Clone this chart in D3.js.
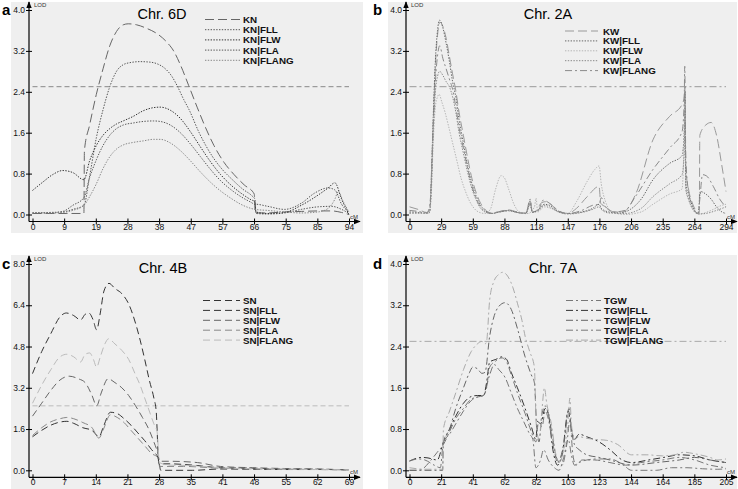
<!DOCTYPE html>
<html><head><meta charset="utf-8">
<script src="https://cdn.jsdelivr.net/npm/d3@7"></script>
<style>body{margin:0;background:#fff}svg{display:block}text{font-family:"Liberation Sans",Arial,sans-serif}</style>
</head><body>
<script>
// ---------- DATA ----------
const panelLetters = ["a","b","c","d"];
const titles = ["Chr. 6D","Chr. 2A","Chr. 4B","Chr. 7A"];
const xMax = [94.2, 293.8, 69.1, 205.3];
const yMax = [4.0, 4.0, 8.0, 4.0];
const xTickLabels6D = ["0","9","19","28","38","47","57","66","75","85","94"];
const xTickLabels2A = ["0","29","59","88","118","147","176","206","235","264","294"];
const xTickLabels4B = ["0","7","14","21","28","35","41","48","55","62","69"];
const xTickLabels7A = ["0","21","41","62","82","103","123","144","164","185","205"];
const yTickLabels4 = ["0.0","0.8","1.6","2.4","3.2","4.0"];
const yTickLabels8 = ["0.0","1.6","3.2","4.8","6.4","8.0"];
const threshold = [2.5, 2.5, 2.5, 2.5];

const names6D = ["KN","KN|FLL","KN|FLW","KN|FLA","KN|FLANG"];
const KN = [[0,0.02],[5,0.02],[10,0.02],[15.3,0.02],[15.45,1.25],[17,1.75],[19,2.35],[21,2.85],[23,3.3],[25,3.58],[27,3.71],[28.5,3.73],[31,3.71],[34,3.64],[37,3.54],[40,3.37],[42,3.2],[44,2.93],[46.5,2.52],[49,2.1],[51.5,1.7],[54,1.35],[57,1.02],[60,0.78],[63,0.58],[66,0.4],[66.3,0.03],[70,0.03],[75,0.05],[80,0.06],[85,0.07],[89,0.07],[92,0.04],[94.2,0.0]];
const KN_FLL = [[0,0.03],[5,0.04],[9,0.05],[12,0.1],[15.3,0.18],[17,0.75],[19,1.5],[21,2.05],[23,2.5],[25,2.8],[27,2.93],[29,2.97],[32,2.99],[35,2.98],[37,2.95],[39.7,2.84],[41.5,2.7],[43.2,2.5],[45,2.25],[46.6,2.05],[49.6,1.6],[53.5,1.14],[56.5,0.88],[59.5,0.68],[62.5,0.5],[65.4,0.36],[66.2,0.3],[66.5,0.02],[70,0.01],[75,0.03],[80,0.1],[85,0.15],[89,0.16],[92,0.1],[94.2,0.02]];
const KN_FLW = [[0,0.47],[3,0.63],[6,0.78],[9,0.86],[12,0.82],[15.3,0.68],[17,1.05],[19,1.35],[21,1.55],[23,1.68],[25,1.77],[27,1.83],[30,1.92],[33,2.03],[36,2.09],[38,2.1],[41,2.04],[44,1.88],[47,1.62],[50,1.32],[53,1.03],[56,0.78],[59,0.58],[62,0.42],[65,0.29],[66.2,0.25],[66.5,0.05],[70,0.02],[75,0.04],[80,0.18],[85,0.38],[88,0.52],[90,0.62],[92,0.3],[94.2,0.0]];
const KN_FLA = [[0,0.03],[5,0.03],[9,0.06],[12,0.18],[15.3,0.33],[17,0.72],[19,1.07],[21,1.35],[23,1.55],[25,1.68],[27,1.75],[30,1.79],[33,1.82],[36,1.83],[38,1.82],[41,1.75],[44,1.6],[47,1.38],[50,1.13],[53,0.88],[56,0.66],[59,0.49],[62,0.35],[65,0.24],[66.2,0.2],[66.5,0.2],[70,0.16],[75,0.1],[80,0.22],[84,0.42],[88,0.52],[90,0.48],[92,0.2],[94.2,0.05]];
const KN_FLANG = [[0,0.03],[5,0.03],[9,0.04],[12,0.08],[15.3,0.18],[17,0.35],[19,0.6],[21,0.9],[23,1.13],[25,1.28],[27,1.36],[30,1.41],[33,1.44],[36,1.47],[38,1.47],[41,1.4],[44,1.25],[47,1.05],[50,0.83],[53,0.63],[56,0.46],[59,0.32],[62,0.2],[65,0.12],[66.2,0.1],[70,0.08],[75,0.05],[80,0.03],[85,0.05],[88,0.12],[90,0.3],[91,0.45],[92.5,0.25],[94.2,0.05]];

const names2A = ["KW","KW|FLL","KW|FLW","KW|FLA","KW|FLANG"];
const KW = [[0,0.15],[8,0.1],[16,0.04],[19,0.1],[20,0.6],[22,1.8],[24,2.9],[26,3.5],[28.3,3.76],[31,3.68],[34,3.45],[37,3.1],[40,2.75],[43,2.42],[46,2.0],[50,1.55],[54,1.1],[58,0.7],[62,0.42],[66,0.22],[70,0.1],[76,0.03],[84,0.06],[92,0.09],[100,0.05],[108,0.03],[112,0.27],[114,0.05],[118,0.08],[122,0.22],[126,0.25],[131,0.2],[138,0.08],[147,0.02],[155,0.12],[165,0.35],[176,0.55],[177.5,0.22],[182,0.15],[190,0.05],[198,0.05],[210,0.4],[226,1.46],[241.5,1.92],[253,2.15],[255,2.3],[255.6,2.5],[256.5,0.9],[259,0.5],[263,0.2],[268,0.03],[269,0.02],[269.5,1.55],[275,1.75],[280,1.8],[285,1.55],[290,0.95],[293.8,0.45]];
const KW_FLL = [[0,0.05],[8,0.04],[16,0.02],[19,0.05],[20,0.5],[22,1.9],[24,3.0],[26,3.6],[28,3.8],[31,3.65],[34,3.35],[37,3.0],[40,2.6],[43,2.3],[46,1.85],[50,1.4],[54,0.95],[58,0.6],[62,0.35],[66,0.18],[70,0.08],[76,0.02],[84,0.05],[92,0.08],[100,0.04],[108,0.02],[112,0.22],[114,0.04],[120,0.1],[125,0.2],[130,0.18],[138,0.06],[147,0.02],[160,0.05],[170,0.12],[176,0.2],[178,0.12],[185,0.05],[195,0.03],[205,0.1],[215,0.3],[226,0.68],[241.5,1.0],[253,1.15],[255,1.6],[255.7,2.4],[256.5,0.6],[259,0.4],[263,0.15],[268,0.02],[270,0.45],[275,0.4],[280,0.3],[285,0.15],[290,0.05],[293.8,0.02]];
const KW_FLW = [[0,0.02],[10,0.02],[18,0.02],[20,0.3],[22,1.4],[24,2.1],[26,2.3],[27.5,2.35],[30,2.2],[33,2.0],[36,1.75],[40,1.4],[44,1.05],[48,0.7],[52,0.45],[56,0.25],[60,0.12],[64,0.05],[70,0.02],[75,0.1],[80,0.5],[85,0.76],[88,0.72],[92,0.5],[97,0.2],[102,0.05],[110,0.02],[116,0.15],[117.5,0.32],[119,0.05],[125,0.15],[131,0.12],[140,0.04],[147,0.02],[155,0.25],[165,0.65],[172,0.88],[176,0.95],[178,0.6],[182,0.25],[188,0.05],[200,0.0],[215,0.05],[226,0.2],[241.5,0.4],[253,0.5],[255,1.5],[255.8,2.2],[256.6,0.5],[259,0.3],[263,0.1],[268,0.01],[272,0.02],[280,0.08],[290,0.18],[293.8,0.2]];
const KW_FLA = [[0,0.03],[10,0.03],[18,0.03],[20,0.4],[22,1.6],[24,2.4],[26,2.7],[28,2.8],[31,2.72],[34,2.6],[37,2.5],[40,2.3],[43,2.0],[46,1.6],[50,1.2],[54,0.82],[58,0.5],[62,0.28],[66,0.12],[70,0.05],[76,0.02],[84,0.05],[92,0.07],[100,0.04],[108,0.02],[112,0.2],[114,0.04],[120,0.08],[125,0.18],[130,0.15],[138,0.05],[147,0.01],[160,0.04],[170,0.1],[176,0.15],[178,0.1],[185,0.03],[200,0.02],[215,0.12],[226,0.35],[241.5,0.6],[253,0.78],[255,1.2],[255.7,2.0],[256.5,0.5],[259,0.3],[263,0.1],[268,0.01],[275,0.02],[285,0.08],[293.8,0.15]];
const KW_FLANG = [[0,0.08],[8,0.06],[16,0.03],[18.5,0.15],[20,0.5],[22,1.7],[24,2.6],[26,3.1],[28,3.3],[31,3.05],[34,2.85],[37,2.65],[40,2.45],[43,2.1],[46,1.7],[50,1.3],[54,0.9],[58,0.55],[62,0.3],[66,0.15],[70,0.06],[76,0.02],[84,0.06],[92,0.08],[100,0.04],[108,0.02],[112,0.3],[114,0.05],[120,0.1],[124,0.28],[130,0.22],[138,0.07],[147,0.02],[160,0.08],[170,0.18],[176,0.2],[178,0.33],[182,0.15],[190,0.05],[200,0.08],[210,0.36],[226,0.88],[241.5,1.3],[253,1.62],[255,2.2],[255.5,2.9],[256.5,1.1],[259,0.45],[263,0.15],[268,0.02],[269.5,0.3],[272,0.78],[276,0.75],[282,0.55],[288,0.3],[293.8,0.15]];

const names4B = ["SN","SN|FLL","SN|FLW","SN|FLA","SN|FLANG"];
const SN = [[0,3.75],[2,4.6],[4,5.3],[6,5.95],[7.4,6.1],[9,6.0],[10.5,5.83],[11.5,6.05],[12.3,6.1],[13.2,5.85],[14,5.45],[14.8,6.1],[15.6,6.95],[16.7,7.25],[18,7.05],[19.5,6.85],[21,6.45],[22.5,5.7],[23.5,5.05],[24.5,4.3],[25.5,3.5],[26.5,2.8],[27,2.3],[27.6,0.25],[30,0.25],[35,0.2],[41,0.1],[48,0.08],[55,0.05],[62,0.04],[69.1,0.02]];
const SN_FLL = [[0,1.3],[2,1.55],[4,1.75],[6,1.87],[7.5,1.9],[9,1.82],[11,1.65],[13,1.55],[14.5,1.3],[15.5,1.7],[17,2.25],[18.5,2.2],[20,2.0],[21.5,1.75],[23,1.45],[24.5,1.15],[26,0.8],[27.5,0.45],[28,0.0],[35,0.0],[41,0.05],[48,0.04],[55,0.03],[62,0.03],[69.1,0.02]];
const SN_FLW = [[0,2.1],[2,2.6],[4,3.1],[6,3.5],[8,3.65],[10,3.55],[11.5,3.4],[13,2.9],[14,2.5],[15,3.0],[16.5,3.55],[18,3.4],[19.5,3.2],[21,2.9],[22.5,2.5],[24,2.05],[25.5,1.55],[26.5,1.1],[27.3,0.7],[27.8,0.35],[30,0.35],[36,0.3],[41,0.15],[48,0.1],[55,0.07],[62,0.05],[69.1,0.02]];
const SN_FLA = [[0,1.35],[2,1.65],[4,1.88],[6,2.0],[7.5,2.05],[9,2.0],[11,1.85],[13,1.65],[14.5,1.25],[15.5,1.6],[17,2.15],[18.5,2.05],[20,1.85],[21.5,1.55],[23,1.25],[24.5,0.95],[26,0.65],[27.3,0.5],[27.8,0.15],[33,0.15],[41,0.08],[48,0.06],[55,0.04],[62,0.03],[69.1,0.02]];
const SN_FLANG = [[0,2.6],[2,3.3],[4,3.9],[6,4.4],[7.5,4.5],[9,4.4],[10.5,4.2],[11.5,4.5],[12.5,4.55],[13.3,4.3],[14,4.0],[14.8,4.4],[15.8,4.9],[16.6,5.1],[18,4.9],[19.5,4.65],[21,4.3],[22.5,3.7],[23.5,3.3],[24.5,2.8],[25.5,2.3],[26.5,1.8],[27.2,1.5],[27.7,0.3],[30,0.2],[35,0.18],[41,0.1],[48,0.06],[55,0.05],[62,0.03],[69.1,0.02]];

const names7A = ["TGW","TGW|FLL","TGW|FLW","TGW|FLA","TGW|FLANG"];
const TGW = [[0,0.0],[5,0.0],[8,0.02],[14,0.2],[18,0.35],[22,0.5],[26,0.75],[30,1.0],[35,1.2],[40,1.38],[44,1.42],[48,1.45],[52,1.85],[55,2.05],[58,1.95],[62,1.8],[66,1.5],[70,1.2],[74,0.95],[78,0.7],[80,0.6],[82,0.05],[85,0.2],[87,0.4],[90,0.2],[94,0.05],[97,0.0],[100,0.25],[103,0.6],[105,0.3],[107,0.1],[110,0.15],[115,0.2],[122,0.22],[130,0.22],[138,0.12],[144,0.0],[160,0.0],[170,0.05],[180,0.05],[190,0.03],[200,0.02],[205.3,0.03]];
const TGW_FLL = [[0,0.18],[8,0.25],[12,0.24],[18,0.2],[22,0.55],[26,0.8],[30,1.05],[35,1.3],[40,1.43],[44,1.45],[48,1.45],[50,1.7],[52,2.1],[56,2.15],[60,2.2],[63,2.15],[66,1.9],[70,1.6],[75,1.2],[79,0.85],[82,0.6],[83,0.95],[85,0.9],[88,1.2],[90,1.1],[93,0.4],[96,0.1],[99,0.3],[103,1.15],[104.5,0.9],[107,0.6],[110,0.7],[115,0.65],[123,0.55],[130,0.4],[138,0.2],[144,0.15],[155,0.2],[165,0.25],[175,0.3],[185,0.28],[195,0.2],[205.3,0.15]];
const TGW_FLW = [[0,0.0],[10,0.0],[21.5,0.0],[22,0.55],[26,0.8],[30,1.2],[35,1.6],[39,1.9],[41,2.0],[44,1.97],[47,1.88],[49,1.9],[52,2.6],[55,3.0],[58,3.18],[62,3.25],[66,3.12],[70,2.75],[75,2.2],[79,1.85],[81,1.7],[82.5,0.85],[84,0.55],[86,1.1],[88,1.25],[90,1.1],[93,0.6],[96,0.15],[100,0.5],[103.5,1.2],[105,0.8],[107,0.5],[110,0.4],[115,0.3],[123,0.25],[130,0.2],[144,0.1],[160,0.15],[175,0.2],[185,0.25],[195,0.2],[205.3,0.15]];
const TGW_FLA = [[0,0.18],[6,0.22],[10,0.2],[16,0.1],[20,0.05],[22,0.55],[26,0.7],[30,0.9],[35,1.15],[40,1.35],[45,1.43],[48,1.45],[50,1.6],[52,2.0],[56,2.12],[60,2.18],[63,2.1],[66,1.85],[70,1.5],[75,1.1],[79,0.75],[82,0.55],[83.5,0.9],[86,0.85],[88,1.15],[90,1.0],[93,0.5],[96,0.2],[99,0.1],[102,0.5],[104,0.95],[106,0.3],[108,0.1],[112,0.2],[120,0.2],[130,0.15],[140,0.1],[150,0.15],[164,0.2],[175,0.25],[185,0.2],[195,0.1],[205.3,0.05]];
const TGW_FLANG = [[0,0.05],[10,0.02],[21.5,0.02],[22,0.8],[26,1.15],[30,1.5],[35,1.95],[40,2.3],[44,2.45],[47,2.5],[49,2.45],[50,2.5],[52,3.3],[54.7,3.66],[58,3.8],[60.5,3.84],[64,3.75],[67,3.55],[70,3.24],[73,2.9],[75,2.6],[78,2.3],[81,2.0],[82.2,0.9],[84,0.6],[86,1.2],[87.5,1.6],[89,1.3],[92,0.9],[95,0.3],[97,0.15],[100,0.4],[103,1.0],[104,1.4],[105,0.9],[107,0.6],[110,0.65],[115,0.62],[120,0.6],[128,0.58],[135,0.5],[144,0.3],[154,0.3],[164,0.28],[172,0.3],[178,0.35],[185,0.32],[195,0.25],[200,0.2],[205.3,0.22]];

// ---------- STYLES ----------
const DOT = "1.4,1.4", LDASH = "9,4", DASH = "7,4", DDOT = "7,3,2,3";
const panels = [
  {ox:0, top:10, bottom:214.5, xl:xTickLabels6D, yl:yTickLabels4, names:names6D,
   series:[KN,KN_FLL,KN_FLW,KN_FLA,KN_FLANG],
   colors:["#666","#555","#333","#555","#888"], dashes:[LDASH,DOT,DOT,DOT,DOT],
   thr:{c:"#888",d:"5,3"}, leg:{x0:205,x1:240,tx:243,y0:19.5,dy:10.2}, tx:162},
  {ox:377, top:10, bottom:214.5, xl:xTickLabels2A, yl:yTickLabels4, names:names2A,
   series:[KW,KW_FLL,KW_FLW,KW_FLA,KW_FLANG],
   colors:["#999","#666","#b5b5b5","#888","#8a8a8a"], dashes:[LDASH,DOT,DOT,DOT,DDOT],
   thr:{c:"#999",d:DDOT}, leg:{x0:565,x1:598,tx:603,y0:31,dy:9.9}, tx:548},
  {ox:0, top:264, bottom:470.3, xl:xTickLabels4B, yl:yTickLabels8, names:names4B,
   series:[SN,SN_FLL,SN_FLW,SN_FLA,SN_FLANG],
   colors:["#333","#333","#666","#888","#bbb"], dashes:[DASH,DASH,DASH,DASH,DASH],
   thr:{c:"#bbb",d:"5,3"}, leg:{x0:203,x1:240,tx:243,y0:300.5,dy:9.9}, tx:163},
  {ox:377, top:264, bottom:470.3, xl:xTickLabels7A, yl:yTickLabels4, names:names7A,
   series:[TGW,TGW_FLL,TGW_FLW,TGW_FLA,TGW_FLANG],
   colors:["#777","#333","#666","#777","#aaa"], dashes:[DDOT,DDOT,DDOT,DDOT,DDOT],
   thr:{c:"#aaa",d:DDOT}, leg:{x0:566,x1:601,tx:604,y0:300.5,dy:9.9}, tx:553}
];
const bgs = [[11,2,352,231],[388,2,349,231],[11,255,352,234],[388,255,349,234]];

const svg = d3.select("body").append("svg").attr("width",738).attr("height",489);
svg.append("defs").append("marker").attr("id","arr").attr("viewBox","0 0 10 10")
  .attr("refX",9).attr("refY",5).attr("markerWidth",6).attr("markerHeight",6).attr("orient","auto")
  .append("path").attr("d","M0,1 L10,5 L0,9 Z").attr("fill","#000");

panels.forEach((p,i)=>{
  const b = bgs[i];
  svg.append("rect").attr("x",b[0]).attr("y",b[1]).attr("width",b[2]).attr("height",b[3]).attr("fill","#efefef");
  const x0 = 32.5 + p.ox, x1 = 349 + p.ox;
  const x = d3.scaleLinear().domain([0,xMax[i]]).range([x0,x1]);
  const y = d3.scaleLinear().domain([0,yMax[i]]).range([p.bottom,p.top]);
  const g = svg.append("g");
  const axY = x0 - 3.5, axX = p.bottom + 7;

  svg.append("text").attr("x",p.ox + (i%2? -4:2)).attr("y",p.top+5).attr("font-size",15).attr("font-weight","bold").text(panelLetters[i]);
  svg.append("text").attr("x",p.tx).attr("y",p.top+9).attr("text-anchor","middle").attr("font-size",14.5).text(titles[i]);

  g.append("line").attr("x1",x0).attr("x2",x1).attr("y1",y(threshold[i])).attr("y2",y(threshold[i]))
    .attr("stroke",p.thr.c).attr("stroke-width",1).attr("stroke-dasharray",p.thr.d);

  const line = d3.line().x(d=>x(d[0])).y(d=>y(d[1])).curve(d3.curveMonotoneX);
  p.series.forEach((s,k)=>{
    g.append("path").attr("d",line(s)).attr("fill","none").attr("stroke",p.colors[k])
      .attr("stroke-width",1).attr("stroke-dasharray",p.dashes[k]);
  });

  p.names.forEach((n,k)=>{
    const ly = p.leg.y0 + k*p.leg.dy;
    g.append("line").attr("x1",p.leg.x0).attr("x2",p.leg.x1).attr("y1",ly).attr("y2",ly)
      .attr("stroke",p.colors[k]).attr("stroke-width",1).attr("stroke-dasharray",p.dashes[k]);
    g.append("text").attr("x",p.leg.tx).attr("y",ly+3.5).attr("font-size",9.8).attr("font-weight","bold").attr("fill","#111").text(n);
  });

  g.append("line").attr("x1",axY).attr("x2",axY).attr("y1",axX).attr("y2",p.top-8)
    .attr("stroke","#000").attr("stroke-width",1.2).attr("marker-end","url(#arr)");
  g.append("line").attr("x1",axY).attr("x2",x1+11).attr("y1",axX).attr("y2",axX)
    .attr("stroke","#000").attr("stroke-width",1.2).attr("marker-end","url(#arr)");
  g.append("text").attr("x",axY+5).attr("y",p.top-3).attr("font-size",6).attr("fill","#333").text("LOD");
  g.append("text").attr("x",x1+1).attr("y",axX-3).attr("font-size",6).attr("fill","#333").text("cM");

  const xt = p.xl.map((l,k)=>k*xMax[i]/10);
  const xa = d3.axisBottom(x).tickValues(xt).tickFormat((d,k)=>p.xl[k]).tickSize(3).tickPadding(0);
  const gx = g.append("g").attr("transform",`translate(0,${axX})`).call(xa);
  gx.select(".domain").remove();
  gx.selectAll(".tick line").attr("y1",-3).attr("y2",3).attr("stroke","#000");
  gx.selectAll(".tick text").attr("y",2).attr("font-size",8.5).attr("font-family","Liberation Sans, Arial").attr("fill","#111");

  const yt = p.yl.map((l,k)=>k*yMax[i]/5);
  const ya = d3.axisLeft(y).tickValues(yt).tickFormat((d,k)=>p.yl[k]).tickSize(3).tickPadding(1);
  const gy = g.append("g").attr("transform",`translate(${axY},0)`).call(ya);
  gy.select(".domain").remove();
  gy.selectAll(".tick line").attr("x1",-3).attr("x2",3).attr("stroke","#000");
  gy.selectAll(".tick text").attr("font-size",8.5).attr("font-family","Liberation Sans, Arial").attr("fill","#111");
});
</script>
</body></html>
